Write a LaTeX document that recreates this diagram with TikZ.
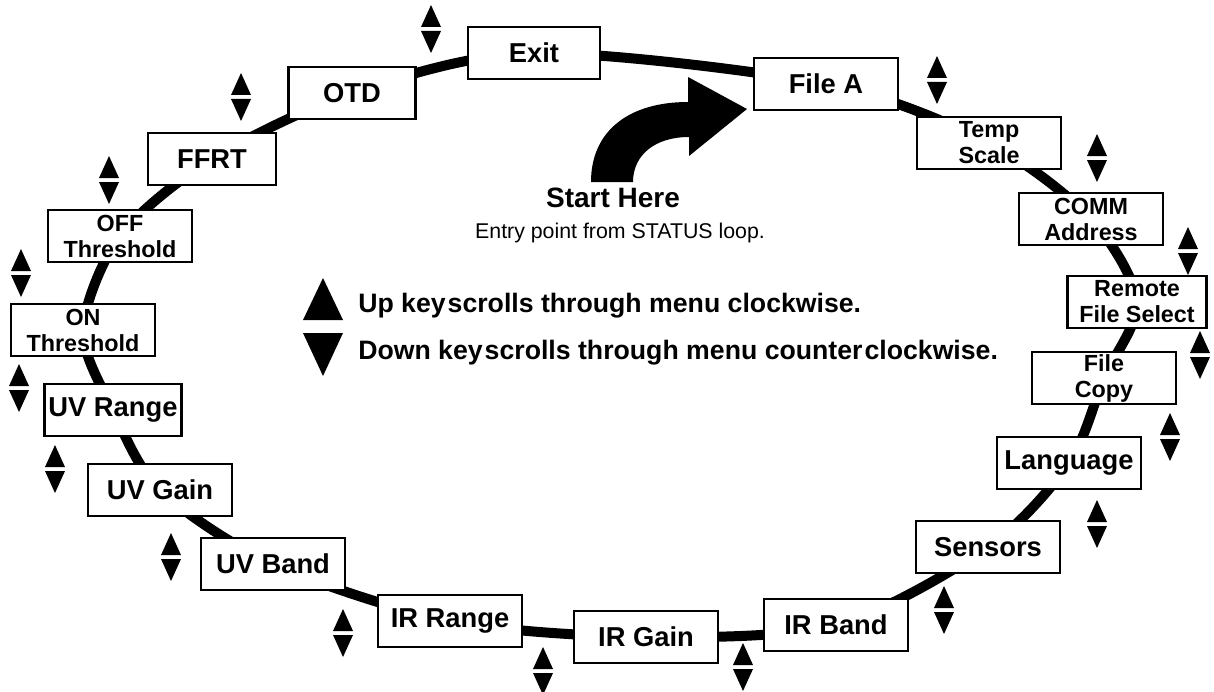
\documentclass[tikz,border=0pt]{standalone}
\usepackage{fontspec}
\setmainfont{Liberation Sans}
\usetikzlibrary{backgrounds}

\tikzset{updown/.pic={
  \fill (-10,-2) -- (10,-2) -- (0,-24) -- cycle;
  \fill (-10,2) -- (10,2) -- (0,24) -- cycle;},
  twoline/.style={font=\fontsize{17.5}{19.5}\selectfont\bfseries}}

\begin{document}
\begin{tikzpicture}[x=0.75pt, y=-0.75pt]
\useasboundingbox (0,0) rectangle (1214,692);

   \begin{scope}[every node/.style={rectangle,draw=black,line width=2.2pt,fill=white,minimum width=108pt,minimum height=39pt,inner sep=0pt,align=center,font=\fontsize{20.5}{16.5}\selectfont\bfseries}]
    \node (exit) at (534,53) [minimum width=99pt] {Exit};
    \node (fileA) at (826,84) {File A};
    \node (temp) at (989,143) [twoline] {Temp\\Scale};
    \node (comm) at (1091,219) [twoline] {COMM\\Address};
    \node (remote) at (1137,302) [minimum width=104pt,twoline] {Remote\\File Select};
    \node (copy) at (1104,378) [twoline] {File\\Copy};
    \node (lang) at (1069,463) {Language};
    \node (sens) at (988,547) {Sensors};
    \node (irband) at (836,625) {IR Band};
    \node (irgain) at (646,637) {IR Gain};
    \node (irrange) at (450,621) {IR Range};
    \node (uvband) at (273,564) {UV Band};
    \node (uvgain) at (160,490) {UV Gain};
    \node (uvrange) at (113,410) [minimum width=103pt] {UV Range};
    \node (on) at (83,330) [twoline] {ON\\Threshold};
    \node (off) at (120,236) [twoline] {OFF\\Threshold};
    \node (ffrt) at (212,159) [minimum width=96pt] {FFRT};
    \node (otd) at (352,93) [minimum width=95pt] {OTD};
   \end{scope}

   % the menu loop
   \begin{scope}[on background layer]
   \draw[line width=7.5pt] plot[smooth cycle] coordinates {(exit) (fileA) (temp) (comm) (remote) (copy) (lang) (sens) (irband) (irgain) (irrange) (uvband) (uvgain) (uvrange) (on) (off) (ffrt) (otd)};
   \end{scope}

   % up/down keys beside the boxes
   \foreach \x/\y in {431/29, 937/80, 1097/158, 1188/251, 1200/355, 1170/437, 1097/524, 944/610, 743/667, 543/671, 343/633, 171/557, 55/469, 19/388, 21/273, 109/180, 241/97}
     \pic at (\x,\y) {updown};

   % entry arrow
   \fill (591,182) .. controls (591,130) and (630,102) .. (688,102) -- (688,77) -- (747,109) -- (689,156) -- (689,137) .. controls (655,137) and (633,155) .. (633,182) -- cycle;
   \node (start) at (613,207) [anchor=base,font=\fontsize{21}{21}\selectfont\bfseries] {Start Here};
   \node (entry) at (620,238) [anchor=base,font=\fontsize{16}{16}\selectfont] {Entry point from STATUS loop.};

   % legend
   \fill (303,320) -- (343,320) -- (323,278) -- cycle;
   \fill (303,333) -- (343,333) -- (323,376) -- cycle;
   \node (upkey) at (358,312) [anchor=base west,inner sep=0pt,font=\fontsize{20}{20}\selectfont\bfseries] {Up key\hspace{1.5pt}scrolls through menu clockwise.};
   \node (downkey) at (358,359) [anchor=base west,inner sep=0pt,font=\fontsize{20}{20}\selectfont\bfseries] {Down key\hspace{1.5pt}scrolls through menu counter\hspace{1.5pt}clockwise.};
\end{tikzpicture}
\end{document}
